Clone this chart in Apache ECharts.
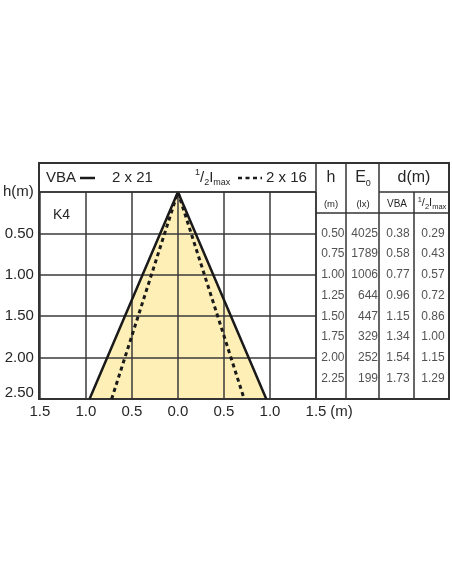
<!DOCTYPE html>
<html><head><meta charset="utf-8">
<script src="https://cdn.jsdelivr.net/npm/echarts@6/dist/echarts.min.js"></script>
<style>html,body{margin:0;padding:0;background:#fff}#c{width:452px;height:584px}</style>
</head><body><div id="c"></div>
<script>
// ---- data ----
const heights = [0.50, 0.75, 1.00, 1.25, 1.50, 1.75, 2.00, 2.25];
const e0 = [4025, 1789, 1006, 644, 447, 329, 252, 199];
const dVBA = [0.38, 0.58, 0.77, 0.96, 1.15, 1.34, 1.54, 1.73];
const dHalf = [0.29, 0.43, 0.57, 0.72, 0.86, 1.00, 1.15, 1.29];
const coneVBA = [[-0.96, 2.5], [0, 0], [0.96, 2.5]];
const coneHalf = [[-0.72, 2.5], [0, 0], [0.72, 2.5]];
const yLabelTop = 'h(m)';
const xUnit = '(m)';
const legendVBA = '2 x 21';
const legendHalf = '2 x 16';
const curveName = 'K4';

// ---- style ----
const FONT = '"Liberation Sans", Arial, sans-serif';
const TXT = '#262626';
const LINE = '#3a3a3a';

const chart = echarts.init(document.getElementById('c'), null, {renderer: 'canvas'});

function tableSeries(values, colX, fmt, pos) {
  return {
    type: 'scatter', xAxisIndex: 1, yAxisIndex: 1, symbolSize: 0, silent: true, z: 6,
    data: heights.map((h, i) => [colX, h, values[i]]),
    label: {
      show: true, position: pos, distance: 0,
      formatter: p => fmt(p.value[2]),
      fontFamily: FONT, fontSize: 12, color: TXT
    }
  };
}

function hline(x1, x2, y, w) {
  return {type: 'line', shape: {x1, y1: y, x2, y2: y}, style: {stroke: '#333', lineWidth: w || 1.5}, z: 10, silent: true};
}
function vline(x, y1, y2, w) {
  return {type: 'line', shape: {x1: x, y1, x2: x, y2}, style: {stroke: '#333', lineWidth: w || 1.5}, z: 10, silent: true};
}
function txt(x, y, text, opts) {
  return {type: 'text', x, y, z: 10, silent: true,
    style: Object.assign({text, fontFamily: FONT, fontSize: 15, fill: TXT, align: 'left', verticalAlign: 'middle'}, opts || {})};
}

const halfRich = (base, small) => ({
  n: {fontFamily: FONT, fontSize: base, fill: TXT, color: TXT, lineHeight: base + 4, verticalAlign: 'middle'},
  sup: {fontFamily: FONT, fontSize: small, fill: TXT, color: TXT, lineHeight: base + 4, verticalAlign: 'top'},
  sub: {fontFamily: FONT, fontSize: small, fill: TXT, color: TXT, lineHeight: base + 4, verticalAlign: 'bottom'}
});

const option = {
  animation: false,
  backgroundColor: '#fff',
  grid: [
    {left: 39, right: 136, top: 192, bottom: 185},
    {left: 316, right: 3, top: 192, bottom: 185}
  ],
  xAxis: [
    {
      type: 'value', min: -1.5, max: 1.5, interval: 0.5, z: 3, position: 'bottom',
      axisLine: {show: true, onZero: false, lineStyle: {color: '#333', width: 2}},
      axisTick: {show: false},
      splitLine: {show: true, lineStyle: {color: LINE, width: 1.5}},
      axisLabel: {margin: 5, fontFamily: FONT, fontSize: 15, color: TXT,
        formatter: v => Math.abs(v).toFixed(1)},
      name: xUnit, nameLocation: 'end', nameGap: 14,
      nameTextStyle: {fontFamily: FONT, fontSize: 15, color: TXT, verticalAlign: 'top', padding: [5, 0, 0, 0]}
    },
    {type: 'value', gridIndex: 1, min: 0, max: 133, show: false}
  ],
  yAxis: [
    {
      type: 'value', inverse: true, min: 0, max: 2.5, interval: 0.5, z: 3,
      axisLine: {show: false}, axisTick: {show: false},
      splitLine: {show: true, lineStyle: {color: LINE, width: 1.5}},
      axisLabel: {margin: 6, fontFamily: FONT, fontSize: 15, color: TXT,
        formatter: v => v === 0 ? yLabelTop : (v === 2.5 ? '{up|' + v.toFixed(2) + '}' : v.toFixed(2)),
        rich: {up: {fontFamily: FONT, fontSize: 15, color: TXT, padding: [0, 0, 12, 0]}}}
    },
    {type: 'value', gridIndex: 1, inverse: true, min: 0, max: 2.5, show: false}
  ],
  series: [
    {
      type: 'line', data: coneVBA, symbol: 'none', z: 1, silent: true,
      lineStyle: {width: 0, opacity: 0},
      areaStyle: {color: '#fdefb6', opacity: 1, origin: 'end'}
    },
    {
      type: 'line', data: coneVBA, symbol: 'none', z: 5, silent: true,
      lineStyle: {color: '#1a1a1a', width: 2.5}
    },
    {
      type: 'line', data: coneHalf, symbol: 'none', z: 5, silent: true,
      lineStyle: {color: '#1a1a1a', width: 3, type: [4, 3.5]}
    },
    tableSeries(heights, 28.5, v => v.toFixed(2), 'left'),
    tableSeries(e0, 62, v => String(v), 'left'),
    tableSeries(dVBA, 82, v => v.toFixed(2), 'inside'),
    tableSeries(dHalf, 117, v => v.toFixed(2), 'inside')
  ],
  graphic: [
    // frame
    hline(38, 450, 163, 2),
    vline(39, 162, 400, 2),
    vline(449, 162, 400, 2),
    hline(39, 316, 192),
    hline(379, 449, 192),
    hline(316, 449, 213),
    hline(316, 449, 399, 2),
    vline(316, 163, 399),
    vline(346, 163, 399),
    vline(379, 163, 399),
    vline(414, 192, 399),
    // legend row
    txt(46, 178, 'VBA'),
    {type: 'line', shape: {x1: 80, y1: 178, x2: 95, y2: 178}, style: {stroke: '#1a1a1a', lineWidth: 2.5}, z: 10, silent: true},
    txt(112, 178, legendVBA),
    {type: 'text', x: 195, y: 178, z: 10, silent: true,
      style: {text: '{sup|1}{n|/}{sub|2}{n|I}{sub|max}', rich: halfRich(15, 9), align: 'left', verticalAlign: 'middle'}},
    {type: 'line', shape: {x1: 238, y1: 178, x2: 262, y2: 178}, style: {stroke: '#1a1a1a', lineWidth: 2.5, lineDash: [4, 3.5]}, z: 10, silent: true},
    txt(266, 178, legendHalf),
    txt(53, 215, curveName, {fontSize: 14}),
    // table header
    txt(331, 178, 'h', {align: 'center', fontSize: 16}),
    {type: 'text', x: 363, y: 178, z: 10, silent: true,
      style: {text: '{n|E}{sub|0}', rich: {n: {fontFamily: FONT, fontSize: 16, fill: TXT, lineHeight: 20}, sub: {fontFamily: FONT, fontSize: 9, fill: TXT, lineHeight: 20, verticalAlign: 'bottom'}}, align: 'center', verticalAlign: 'middle'}},
    txt(414, 178, 'd(m)', {align: 'center', fontSize: 16}),
    txt(331, 204, '(m)', {align: 'center', fontSize: 9.5}),
    txt(363, 204, '(lx)', {align: 'center', fontSize: 9.5}),
    txt(397, 204, 'VBA', {align: 'center', fontSize: 10}),
    {type: 'text', x: 432, y: 203, z: 10, silent: true,
      style: {text: '{sup|1}{n|/}{sub|2}{n|I}{sub|max}', rich: halfRich(11, 7.5), align: 'center', verticalAlign: 'middle'}}
  ]
};
chart.setOption(option);
</script>
</body></html>
